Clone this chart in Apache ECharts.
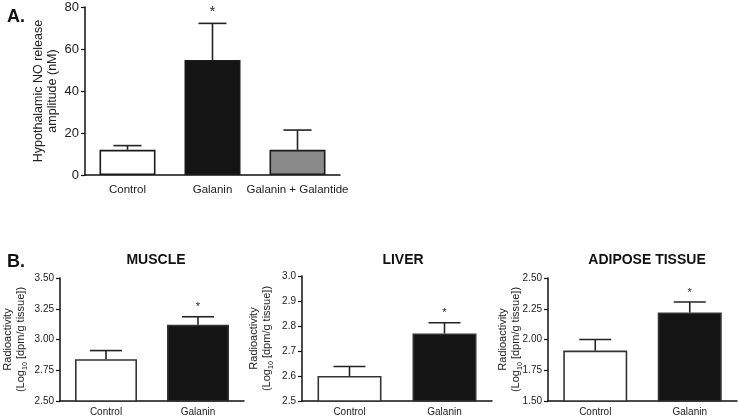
<!DOCTYPE html>
<html>
<head>
<meta charset="utf-8">
<script src="https://cdn.jsdelivr.net/npm/echarts@6/dist/echarts.min.js"></script>
<style>html,body{margin:0;padding:0;background:#fff}#c{width:738px;height:418px}</style>
</head>
<body>
<div id="c"></div>
<script>
// Panel A
const catsA = ['Control', 'Galanin', 'Galanin + Galantide'];
const meanA = [12, 54.8, 12];
const errA = [2, 17.4, 9.4];
const sigA = [0, 1, 0];
const colorsA = ['#ffffff', '#141414', '#8a8a8a'];
const ticksA = [0, 20, 40, 60, 80];

// Panel B
const catsB = ['Control', 'Galanin'];
const colorsB = ['#ffffff', '#141414'];
const muscleMean = [2.84, 3.12];
const muscleErr = [0.07, 0.065];
const liverMean = [2.60, 2.77];
const liverErr = [0.038, 0.043];
const adiposeMean = [1.91, 2.22];
const adiposeErr = [0.09, 0.085];
const sigB = [0, 1];
const titlesB = ['MUSCLE', 'LIVER', 'ADIPOSE TISSUE'];

const FONT = 'Liberation Sans, Arial, Helvetica, sans-serif';

const grids = [
  {left: 85, right: 398, top: 7, bottom: 243},
  {left: 58, right: 494, top: 278, bottom: 17},
  {left: 302, right: 246, top: 276, bottom: 17},
  {left: 548, right: 1, top: 278, bottom: 17}
];

function xAxis(idx, cats, fs) {
  return {
    type: 'category', gridIndex: idx, data: cats,
    axisLine: {lineStyle: {color: '#111', width: 1.5}},
    axisTick: {show: false},
    axisLabel: {color: '#222', fontSize: fs, fontFamily: FONT, margin: fs > 11 ? 9 : 6, interval: 0}
  };
}
function yAxis(idx, min, max, interval, fs, name, nameGap, nameFs, fmt) {
  return {
    type: 'value', gridIndex: idx, min, max, interval,
    splitLine: {show: false},
    axisLine: {show: true, lineStyle: {color: '#111', width: 1.5}},
    axisTick: {show: true, length: 4, lineStyle: {color: '#111', width: 1.2}},
    axisLabel: {color: '#222', fontSize: fs, fontFamily: FONT, margin: 6, formatter: fmt},
    name, nameLocation: 'middle', nameRotate: 90, nameGap, nameMoveOverlap: false,
    nameTextStyle: {
      color: '#222', fontSize: nameFs, fontFamily: FONT, lineHeight: nameFs + 2, align: 'center',
      rich: {
        n: {fontSize: nameFs, fontFamily: FONT, color: '#222'},
        s: {fontSize: nameFs * 0.65, fontFamily: FONT, color: '#222', verticalAlign: 'bottom', padding: [0, 0, -2, 0]}
      }
    }
  };
}

function barSeries(idx, vals, colors, bw, bc) {
  return {
    type: 'bar', xAxisIndex: idx, yAxisIndex: idx, barWidth: bw,
    data: vals.map((v, i) => ({value: v, itemStyle: {color: colors[i]}})),
    itemStyle: {borderColor: bc, borderWidth: 1.6},
    z: 2, silent: true
  };
}
function errSeries(idx, vals, errs, sig, capHalf, starFs) {
  return {
    type: 'custom', xAxisIndex: idx, yAxisIndex: idx, z: 3, silent: true,
    data: vals.map((v, i) => [i, v, errs[i], sig[i]]),
    renderItem: function (params, api) {
      const i = api.value(0), m = api.value(1), e = api.value(2), s = api.value(3);
      const p0 = api.coord([i, m]);
      const p1 = api.coord([i, m + e]);
      const style = {stroke: '#222', lineWidth: 1.6};
      const children = [
        {type: 'line', shape: {x1: p0[0], y1: p0[1], x2: p1[0], y2: p1[1]}, style},
        {type: 'line', shape: {x1: p1[0] - capHalf, y1: p1[1], x2: p1[0] + capHalf, y2: p1[1]}, style}
      ];
      if (s) {
        children.push({type: 'text', style: {text: '*', x: p1[0], y: p1[1] - 4, textAlign: 'center', textVerticalAlign: 'bottom', fontSize: starFs, fontFamily: FONT, fill: '#222'}});
      }
      return {type: 'group', children};
    }
  };
}

const bName = '{n|Radioactivity}\n{n|(Log}{s|10}{n| [dpm/g tissue])}';

const option = {
  animation: false,
  backgroundColor: '#fff',
  title: [
    {text: 'A.', left: 2, top: 3, textStyle: {fontSize: 18, fontWeight: 'bold', fontFamily: FONT, color: '#111'}},
    {text: 'B.', left: 2, top: 248, textStyle: {fontSize: 18, fontWeight: 'bold', fontFamily: FONT, color: '#111'}},
    {text: titlesB[0], left: 151, top: 248, textAlign: 'center', textStyle: {fontSize: 14, fontWeight: 'bold', fontFamily: FONT, color: '#111'}},
    {text: titlesB[1], left: 398, top: 248, textAlign: 'center', textStyle: {fontSize: 14, fontWeight: 'bold', fontFamily: FONT, color: '#111'}},
    {text: titlesB[2], left: 642, top: 248, textAlign: 'center', textStyle: {fontSize: 14, fontWeight: 'bold', fontFamily: FONT, color: '#111'}}
  ],
  grid: grids,
  xAxis: [
    xAxis(0, catsA, 11.5),
    xAxis(1, catsB, 10),
    xAxis(2, catsB, 10),
    xAxis(3, catsB, 10)
  ],
  yAxis: [
    yAxis(0, 0, 80, 20, 13, 'Hypothalamic NO release\namplitude (nM)', 25, 12.5, v => v),
    yAxis(1, 2.5, 3.5, 0.25, 10, bName, 33, 11, v => v.toFixed(2)),
    yAxis(2, 2.5, 3.0, 0.1, 10, bName, 29, 11, v => v.toFixed(1)),
    yAxis(3, 1.5, 2.5, 0.25, 10, bName, 26, 11, v => v.toFixed(2))
  ],
  series: [
    barSeries(0, meanA, colorsA, 56, '#1a1a1a'),
    errSeries(0, meanA, errA, sigA, 14, 14),
    barSeries(1, muscleMean, colorsB, 62, '#333'),
    errSeries(1, muscleMean, muscleErr, sigB, 16, 11),
    barSeries(2, liverMean, colorsB, 64, '#333'),
    errSeries(2, liverMean, liverErr, sigB, 16, 11),
    barSeries(3, adiposeMean, colorsB, 64, '#333'),
    errSeries(3, adiposeMean, adiposeErr, sigB, 16, 11)
  ]
};
const chart = echarts.init(document.getElementById('c'), null, {renderer: 'canvas'});
chart.setOption(option);
</script>
</body>
</html>
